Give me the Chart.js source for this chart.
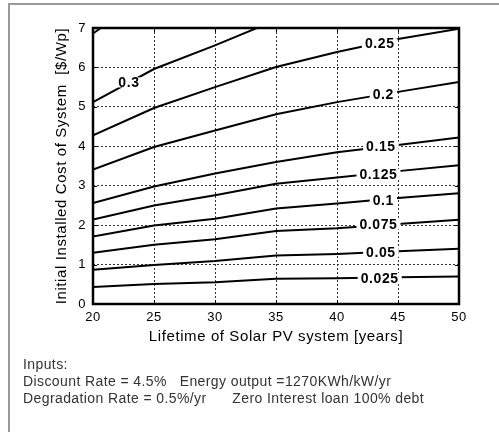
<!DOCTYPE html>
<html>
<head>
<meta charset="utf-8">
<script src="https://cdn.jsdelivr.net/npm/chart.js@4/dist/chart.umd.min.js"></script>
<style>
  html, body { margin:0; padding:0; background:#fff; }
  #wrap { position:relative; width:499px; height:432px; overflow:hidden; }
  #frame { position:absolute; left:8px; top:3px; width:500px; height:440px; border-left:2px solid #9a9a9a; border-top:2px solid #9a9a9a; }
  canvas { position:absolute; left:0; top:0; }
  #notes { position:absolute; left:23px; top:356px; font-family:"Liberation Sans", Arial, sans-serif; font-size:14px; letter-spacing:0.4px; line-height:17px; color:#333; white-space:pre; }
</style>
</head>
<body>
<div id="wrap">
  <div id="frame"></div>
  <canvas id="c" width="499" height="432"></canvas>
  <div id="notes">Inputs:
Discount Rate = 4.5%   Energy output =1270KWh/kW/yr
Degradation Rate = 0.5%/yr      Zero Interest loan 100% debt</div>
</div>
<script>
// Lifetime (years)
const lifetimes = [20, 25, 30, 35, 40, 45, 50];
// Contour levels (LCOE, $/kWh)
const levels = ['0.025', '0.05', '0.075', '0.1', '0.125', '0.15', '0.2', '0.25', '0.3', '0.4'];
// Installed cost ($/Wp) along each contour at each lifetime
const c0025 = [0.43, 0.51, 0.55, 0.64, 0.65, 0.68, 0.70];
const c005  = [0.87, 0.99, 1.09, 1.23, 1.27, 1.34, 1.40];
const c0075 = [1.30, 1.50, 1.64, 1.85, 1.92, 2.03, 2.14];
const c01   = [1.71, 1.99, 2.16, 2.42, 2.55, 2.69, 2.81];
const c0125 = [2.14, 2.50, 2.76, 3.05, 3.21, 3.37, 3.52];
const c015  = [2.56, 2.98, 3.31, 3.60, 3.85, 4.03, 4.22];
const c02   = [3.41, 3.98, 4.40, 4.81, 5.12, 5.38, 5.63];
const c025  = [4.28, 4.97, 5.50, 6.01, 6.39, 6.72, 6.98];
const c03   = [5.12, 5.96, 6.56, 7.20, null, null, null];
const c04   = [6.86, 7.95, null, null, null, null, null];
const contourValues = [c0025, c005, c0075, c01, c0125, c015, c02, c025, c03, c04];
// Inline label positions [lifetime, cost] for each contour (null = not shown)
const labelPos = [[43.5, 0.66], [43.6, 1.32], [43.4, 2.02], [43.8, 2.64], [43.4, 3.30],
                  [43.6, 4.00], [43.8, 5.33], [43.5, 6.61], [22.95, 5.62], null];
// Axis ticks
const xTicks = [20, 25, 30, 35, 40, 45, 50];
const yTicks = [0, 1, 2, 3, 4, 5, 6, 7];

const FONT = '"Liberation Sans", Arial, sans-serif';

const datasets = contourValues.map((vals, i) => ({
  label: levels[i],
  data: vals.map((v, j) => ({ x: lifetimes[j], y: v })),
  borderColor: '#000',
  borderWidth: 2,
  pointRadius: 0,
  tension: 0,
  spanGaps: false,
  fill: false
}));

const frameAndLabels = {
  id: 'frameAndLabels',
  beforeDraw(chart) {
    chart.ctx.letterSpacing = '0.6px';
  },
  afterDatasetsDraw(chart) {
    const ctx = chart.ctx;
    const xs = chart.scales.x, ys = chart.scales.y;
    const a = chart.chartArea;
    ctx.save();
    // contour labels
    ctx.font = 'bold 14px ' + FONT;
    ctx.textAlign = 'center';
    ctx.textBaseline = 'middle';
    labelPos.forEach((p, i) => {
      if (!p) return;
      const px = xs.getPixelForValue(p[0]);
      const py = ys.getPixelForValue(p[1]);
      const w = ctx.measureText(levels[i]).width;
      ctx.fillStyle = '#fff';
      ctx.fillRect(px - w / 2 - 3, py - 5, w + 6, 10);
      ctx.fillStyle = '#000';
      ctx.fillText(levels[i], px, py + 1);
    });
    // inward tick marks
    ctx.strokeStyle = '#000';
    ctx.lineWidth = 1;
    ctx.beginPath();
    xTicks.forEach(t => {
      const px = Math.round(xs.getPixelForValue(t)) + 0.5;
      ctx.moveTo(px, a.bottom); ctx.lineTo(px, a.bottom - 4);
      ctx.moveTo(px, a.top); ctx.lineTo(px, a.top + 4);
    });
    yTicks.forEach(t => {
      const py = Math.round(ys.getPixelForValue(t)) + 0.5;
      ctx.moveTo(a.left, py); ctx.lineTo(a.left + 4, py);
      ctx.moveTo(a.right, py); ctx.lineTo(a.right - 4, py);
    });
    ctx.stroke();
    // frame
    ctx.lineWidth = 2.5;
    ctx.strokeRect(a.left, a.top, a.right - a.left, a.bottom - a.top);
    ctx.restore();
  }
};

new Chart(document.getElementById('c'), {
  type: 'line',
  data: { datasets },
  plugins: [frameAndLabels],
  options: {
    responsive: false,
    animation: false,
    devicePixelRatio: 1,
    layout: { padding: { left: 0, top: 28, right: 40, bottom: 78 } },
    plugins: { legend: { display: false }, tooltip: { enabled: false } },
    scales: {
      x: {
        type: 'linear', min: 20, max: 50,
        afterBuildTicks: s => { s.ticks = xTicks.map(v => ({ value: v })); },
        afterFit: s => { s.height = 50; },
        grid: { color: '#333', lineWidth: 1, drawTicks: false },
        border: { display: false, dash: [2, 2] },
        ticks: { color: '#000', font: { family: FONT, size: 13 }, padding: 6, maxRotation: 0 },
        title: { display: true, text: 'Lifetime of Solar PV system [years]', color: '#000',
                 font: { family: FONT, size: 15 }, padding: { top: 0, bottom: 8 } }
      },
      y: {
        type: 'linear', min: 0, max: 7,
        afterBuildTicks: s => { s.ticks = yTicks.map(v => ({ value: v })); },
        afterFit: s => { s.width = 93; },
        grid: { color: '#333', lineWidth: 1, drawTicks: false },
        border: { display: false, dash: [2, 2] },
        ticks: { color: '#000', font: { family: FONT, size: 13 }, padding: 7 },
        title: { display: true, text: 'Initial Installed Cost of System  [$/Wp]', color: '#000',
                 font: { family: FONT, size: 15 }, padding: { top: 53, bottom: 0 } }
      }
    }
  }
});
</script>
</body>
</html>
